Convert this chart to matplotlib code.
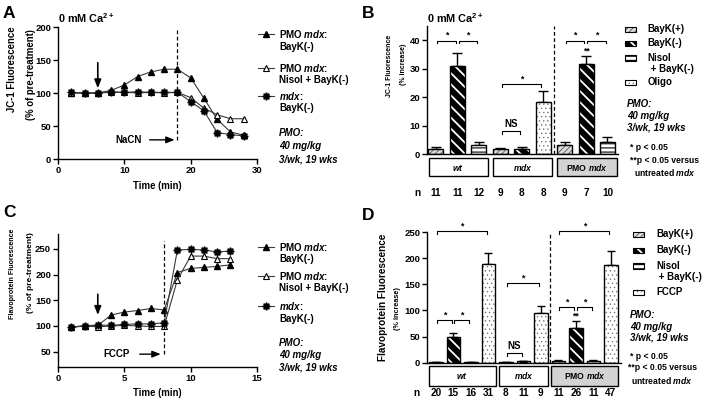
import matplotlib
matplotlib.use("Agg")
import matplotlib.pyplot as plt
import matplotlib.transforms as mtransforms
from matplotlib.patches import Rectangle
from matplotlib.lines import Line2D

# ---------------- data ----------------
time_A = [2, 4, 6, 8, 10, 12, 14, 16, 18, 20, 22, 24, 26, 28]
A_pmo_bayk = [100, 100, 100, 104, 112, 125, 132, 136, 136, 123, 92, 60, 41, 36]
A_pmo_nisol = [100, 100, 100, 102, 101, 100, 101, 100, 101, 93, 77, 67, 61, 61]
A_mdx_bayk = [101, 100, 100, 101, 101, 102, 101, 101, 101, 87, 73, 40, 37, 35]

time_C = [1, 2, 3, 4, 5, 6, 7, 8, 9, 10, 11, 12, 13]
C_pmo_bayk = [98, 100, 101, 121, 127, 130, 134, 131, 204, 212, 214, 216, 219]
C_pmo_nisol = [97, 100, 98, 100, 101, 100, 99, 99, 190, 236, 236, 231, 231]
C_mdx_bayk = [98, 100, 102, 101, 103, 104, 104, 106, 248, 249, 248, 244, 246]

line_labels = [["PMO $\\mathit{mdx}$:", "BayK(-)"],
               ["PMO $\\mathit{mdx}$:", "Nisol + BayK(-)"],
               ["$\\mathit{mdx}$:", "BayK(-)"]]

group_names = ["$\\mathit{wt}$", "$\\mathit{mdx}$", "PMO $\\mathit{mdx}$"]

B_treat = ["BayK(+)", "BayK(-)", "Nisol", "BayK(+)", "BayK(-)", "Oligo", "BayK(+)", "BayK(-)", "Nisol"]
B_group = [0, 0, 0, 1, 1, 1, 2, 2, 2]
B_mean = [1.9, 31.0, 3.3, 1.8, 1.7, 18.1, 3.0, 31.7, 4.1]
B_sem = [0.7, 4.3, 1.0, 0.4, 0.7, 4.0, 1.2, 2.7, 1.8]
B_n = [11, 11, 12, 9, 8, 8, 9, 7, 10]
B_sig = [(0, 1, 39.8, "*"), (1, 2, 39.8, "*"), (3, 4, 8.1, "NS"), (3, 5, 24.5, "*"),
         (6, 7, 39.8, "*"), (7, 8, 39.8, "*")]
B_double = [(7, "**")]

D_treat = ["BayK(+)", "BayK(-)", "Nisol", "FCCP", "BayK(+)", "BayK(-)", "FCCP",
           "BayK(+)", "BayK(-)", "Nisol", "FCCP"]
D_group = [0, 0, 0, 0, 1, 1, 1, 2, 2, 2, 2]
D_mean = [1.5, 49.5, 0.8, 188, 1.5, 2.5, 95, 3.5, 66, 3.5, 186]
D_sem = [0.6, 6.5, 0.4, 22, 0.6, 1.2, 14, 1.2, 13, 1.2, 28]
D_n = [20, 15, 16, 31, 8, 11, 9, 11, 26, 11, 47]
D_sig = [(0, 1, 82, "*"), (1, 2, 82, "*"), (0, 3, 252, "*"), (4, 5, 19, "NS"),
         (4, 6, 153, "*"), (7, 8, 106, "*"), (8, 9, 106, "*"), (7, 10, 252, "*")]
D_double = [(8, "**")]

B_legend = ["BayK(+)", "BayK(-)", "Nisol", "Oligo"]
D_legend = ["BayK(+)", "BayK(-)", "Nisol", "FCCP"]

pmo_note = ["PMO:", "40 mg/kg", "3/wk, 19 wks"]

# ---------------- style ----------------
plt.rcParams.update({
    "font.family": ["Liberation Sans", "DejaVu Sans"],
    "font.weight": "bold",
    "mathtext.fontset": "custom",
    "mathtext.rm": "Liberation Sans:bold",
    "mathtext.bf": "Liberation Sans:bold",
    "mathtext.sf": "Liberation Sans:bold",
    "mathtext.it": "Liberation Sans:italic:bold",
    "axes.linewidth": 1.0,
    "hatch.linewidth": 0.8,
})

FS_TICK = 6.8
FS_LEG = 7.0
FS_BOX = 6.2
FS_N = 7.2
FS_TITLE = 7.8
FS_LET = 12.5
FS_SIG = 6.3
FS_XLAB = 6.9

W, H = 705.0, 401.0
fig = plt.figure(figsize=(7.05, 4.01), dpi=100)


def ax_px(x0, y0, x1, y1):
    return fig.add_axes([x0 / W, 1 - y1 / H, (x1 - x0) / W, (y1 - y0) / H])


def fx(x):
    return x / W


def fy(y):
    return 1 - y / H


def style_axes(ax):
    for s in ("top", "right"):
        ax.spines[s].set_visible(False)
    ax.tick_params(direction="out", length=3.5, width=1.0, labelsize=FS_TICK, pad=1.5)
    for lab in ax.get_xticklabels() + ax.get_yticklabels():
        lab.set_fontweight("bold")


TREAT_STYLE = {
    "BayK(+)": dict(fc="#dcdcdc", hatch="//////", hc="#555555", hlw=0.6),
    "BayK(-)": dict(fc="black", hatch="\\\\\\", hc="white", hlw=1.3),
    "Nisol": dict(fc="white", hatch="----", hc="black", hlw=0.8),
    "Oligo": dict(fc="white", hatch="....", hc="#777777", hlw=0.5),
    "FCCP": dict(fc="white", hatch="....", hc="#777777", hlw=0.5),
}


def set_hlw(p, hlw):
    if hasattr(p, "set_hatch_linewidth"):
        p.set_hatch_linewidth(hlw)


LINE_STYLE = [
    dict(marker="^", mfc="black", mec="black", ms=4.5),
    dict(marker="^", mfc="white", mec="black", ms=4.5, mew=0.8),
    dict(marker=(8, 1, 0), mfc="black", mec="black", ms=5.5),
]


# ---------------- line panels ----------------
def line_panel(ax, t, series, xlim, ylim, xticks, yticks):
    for s, st in zip(series, LINE_STYLE):
        ax.plot(t, s, color="#3a3a3a", lw=0.8, clip_on=False, **st)
    ax.set_xlim(*xlim)
    ax.set_ylim(*ylim)
    ax.set_xticks(xticks)
    ax.set_yticks(yticks)
    style_axes(ax)


ARROW = "-|>,head_length=0.5,head_width=0.2"

axA = ax_px(58, 27, 257, 159)
line_panel(axA, time_A, [A_pmo_bayk, A_pmo_nisol, A_mdx_bayk], (0, 30), (0, 200),
           [0, 10, 20, 30], [0, 50, 100, 150, 200])
axA.set_xlabel("Time (min)", fontsize=FS_XLAB, fontweight="bold", labelpad=4)
axA.plot([18, 18], [29, 198], color="black", lw=0.9, ls=(0, (3, 2)))
axA.annotate("", xy=(6, 103), xytext=(6, 150),
             arrowprops=dict(arrowstyle=ARROW, color="black", lw=1.2))
axA.text(10.7, 29, "NaCN", fontsize=FS_LEG, ha="center", va="center", fontweight="bold")
axA.annotate("", xy=(18, 29), xytext=(13.4, 29),
             arrowprops=dict(arrowstyle=ARROW, color="black", lw=1.0))

axC = ax_px(58, 233.5, 257, 367)
line_panel(axC, time_C, [C_pmo_bayk, C_pmo_nisol, C_mdx_bayk], (0, 15), (20, 280),
           [0, 5, 10, 15], [50, 100, 150, 200, 250])
axC.set_xlabel("Time (min)", fontsize=FS_XLAB, fontweight="bold", labelpad=4)
axC.plot([8, 8], [45, 265], color="black", lw=0.9, ls=(0, (3, 2)))
axC.annotate("", xy=(3, 116), xytext=(3, 167),
             arrowprops=dict(arrowstyle=ARROW, color="black", lw=1.2))
axC.text(4.45, 45, "FCCP", fontsize=FS_LEG, ha="center", va="center", fontweight="bold")
axC.annotate("", xy=(7.95, 45), xytext=(5.95, 45),
             arrowprops=dict(arrowstyle=ARROW, color="black", lw=1.0))


def italic_notes(x, ys):
    for y, s in zip(ys, pmo_note):
        fig.text(fx(x), fy(y), s, fontsize=FS_LEG, va="center", ha="left", style="italic")


def line_legend(ys, pmo_ys):
    for (y1, y2), lab, st in zip(ys, line_labels, LINE_STYLE):
        fig.add_artist(Line2D([fx(258), fx(274)], [fy(y1), fy(y1)], color="#3a3a3a", lw=0.8,
                              transform=fig.transFigure))
        fig.add_artist(Line2D([fx(266)], [fy(y1)], transform=fig.transFigure, **st))
        fig.text(fx(279), fy(y1), lab[0], fontsize=FS_LEG, va="center", ha="left")
        fig.text(fx(279), fy(y2), lab[1], fontsize=FS_LEG, va="center", ha="left")
    italic_notes(279, pmo_ys)


line_legend([(34, 47), (68, 80), (96, 108)], [133, 146, 159])
line_legend([(246.7, 259.5), (276, 288), (306, 319)], [342.7, 355, 367])

# ---------------- bar panels ----------------


def bar_panel(ax, treat, group, mean, sem, n, sig, dbl, xlim, ylim, yticks, width, capsize,
              dash_x, box_y, n_y, n_x, box_l, box_r):
    x = list(range(len(mean)))
    for xi, tr, m, e in zip(x, treat, mean, sem):
        st = TREAT_STYLE[tr]
        ax.errorbar([xi], [m], yerr=[[0], [e]], fmt="none", ecolor="black", elinewidth=1.0,
                    capsize=capsize, capthick=1.0, zorder=1, clip_on=False)
        bc = ax.bar([xi], [m], width, color=st["fc"], edgecolor=st["hc"], hatch=st["hatch"],
                    lw=0, zorder=2)
        for p in bc.patches:
            set_hlw(p, st["hlw"])
        ax.bar([xi], [m], width, fill=False, edgecolor="black", lw=1.0, zorder=3)
    ax.set_xlim(*xlim)
    ax.set_ylim(*ylim)
    ax.set_yticks(yticks)
    ax.set_xticks([])
    style_axes(ax)
    ax.spines["bottom"].set_zorder(4)
    ax.plot([dash_x, dash_x], [0, ylim[1]], color="black", lw=0.9, ls=(0, (3, 2)),
            clip_on=False, zorder=0)
    yr = ylim[1] - ylim[0]
    leg_len = 0.022 * yr
    for i, j, y, s in sig:
        x1 = i + 0.06
        x2 = j - 0.08
        ax.plot([x1, x1, x2, x2], [y - leg_len, y, y, y - leg_len], color="black", lw=0.8,
                clip_on=False)
        if s == "NS":
            ax.text((x1 + x2) / 2, y + 0.012 * yr, s, fontsize=FS_LEG, ha="center", va="bottom")
        else:
            ax.text((x1 + x2) / 2, y + 0.005 * yr, s, fontsize=FS_SIG, ha="center", va="bottom")
    for i, s in dbl:
        ax.text(i, mean[i] + sem[i] + 0.005 * yr, s, fontsize=FS_SIG, ha="center", va="bottom")
    tr = mtransforms.blended_transform_factory(ax.transData, ax.transAxes)
    for g, name in enumerate(group_names):
        idx = [k for k, gg in enumerate(group) if gg == g]
        l = idx[0] - box_l
        r = idx[-1] + box_r
        fc = "#d3d3d3" if g == 2 else "white"
        ax.add_patch(Rectangle((l, box_y[0]), r - l, box_y[1] - box_y[0], transform=tr,
                               clip_on=False, fc=fc, ec="black", lw=1.0))
        ax.text((l + r) / 2, (box_y[0] + box_y[1]) / 2, name, transform=tr, fontsize=FS_BOX,
                ha="center", va="center")
    for xi, nn in zip(x, n):
        ax.text(xi, n_y, str(nn), transform=tr, fontsize=FS_N, ha="center", va="center")
    ax.text(n_x, n_y, "n", transform=tr, fontsize=FS_N, ha="center", va="center")


axB = ax_px(427.3, 25.75, 618, 154)
bar_panel(axB, B_treat, B_group, B_mean, B_sem, B_n, B_sig, B_double, (-0.4, 8.49), (0, 45),
          [0, 10, 20, 30, 40], 0.70, 3.4, 5.5, (-0.175, -0.035), -0.307, -0.84, 0.34, 0.43)

axD = ax_px(427.3, 232, 621, 362.7)
bar_panel(axD, D_treat, D_group, D_mean, D_sem, D_n, D_sig, D_double, (-0.49, 10.58), (0, 250),
          [0, 50, 100, 150, 200, 250], 0.76, 3.0, 6.55, (-0.176, -0.023), -0.23, -1.09,
          0.4, 0.42)


def bar_legend(px, tx, ys, labels):
    for (y0, y1), lab in zip(ys, labels):
        st = TREAT_STYLE[lab]
        r = Rectangle((fx(px), fy(y1)), 11 / W, (y1 - y0) / H, transform=fig.transFigure,
                      fc=st["fc"], ec=st["hc"], hatch=st["hatch"], lw=0)
        set_hlw(r, st["hlw"])
        fig.add_artist(r)
        fig.add_artist(Rectangle((fx(px), fy(y1)), 11 / W, (y1 - y0) / H,
                                 transform=fig.transFigure, fill=False, ec="black", lw=0.8))
        yc = (y0 + y1) / 2
        fig.text(fx(tx), fy(yc), lab, fontsize=FS_LEG, va="center", ha="left")
        if lab == "Nisol":
            fig.text(fx(tx), fy(yc + 11.5), " + BayK(-)", fontsize=FS_LEG, va="center", ha="left")


bar_legend(625, 647.7, [(26.5, 32), (40.5, 46), (55, 60.5), (79.5, 85)], B_legend)
bar_legend(633, 656, [(231.5, 237), (247.5, 253), (263, 268.5), (289.5, 295)], D_legend)


def notes(x, ys, xs2, ys2):
    italic_notes(x, ys)
    fig.text(fx(xs2[0]), fy(ys2[0]), "* p < 0.05", fontsize=FS_BOX, va="center", ha="left")
    fig.text(fx(xs2[1]), fy(ys2[1]), "**p < 0.05 versus", fontsize=FS_BOX, va="center", ha="left")
    fig.text(fx(xs2[2]), fy(ys2[2]), "untreated $\\mathit{mdx}$", fontsize=FS_BOX, va="center",
             ha="left")


notes(626.7, [104, 116, 127.3], [630, 630, 634], [147.7, 160.7, 172.7])
notes(630, [315, 326.5, 338], [630, 628.3, 631], [356.7, 367.3, 380])


# y labels, one text per line (x, y centre in pixels, font size)
def ylab(x, y, s, size):
    fig.text(fx(x), fy(y), s, rotation=90, fontsize=size, ha="center", va="center")


ylab(12, 69, "JC-1 Fluorescence", 6.9)
ylab(30.5, 75, "(% of pre-treatment)", 6.9)
ylab(13, 274, "Flavoprotein Fluorescence", 5.1)
ylab(31, 273, "(% of pre-treatment)", 6.0)
ylab(389.3, 66, "JC-1 Fluorescence", 5.0)
ylab(403.3, 64, "(% increase)", 5.0)
ylab(383.3, 297.5, "Flavoprotein Fluorescence", 7.2)
ylab(397.5, 309, "(% increase)", 5.2)

# titles
fig.text(fx(58), fy(23), "0 mM Ca$^{2+}$", fontsize=FS_TITLE, ha="left", va="baseline")
fig.text(fx(427), fy(23), "0 mM Ca$^{2+}$", fontsize=FS_TITLE, ha="left", va="baseline")

# panel letters
for lx, ly, L in [(3, 18.5, "A"), (361.5, 18.5, "B"), (3, 217, "C"), (361.5, 220, "D")]:
    fig.text(fx(lx), fy(ly), L, fontsize=FS_LET, ha="left", va="baseline", fontweight="bold")

fig.savefig("out.png", dpi=100)
